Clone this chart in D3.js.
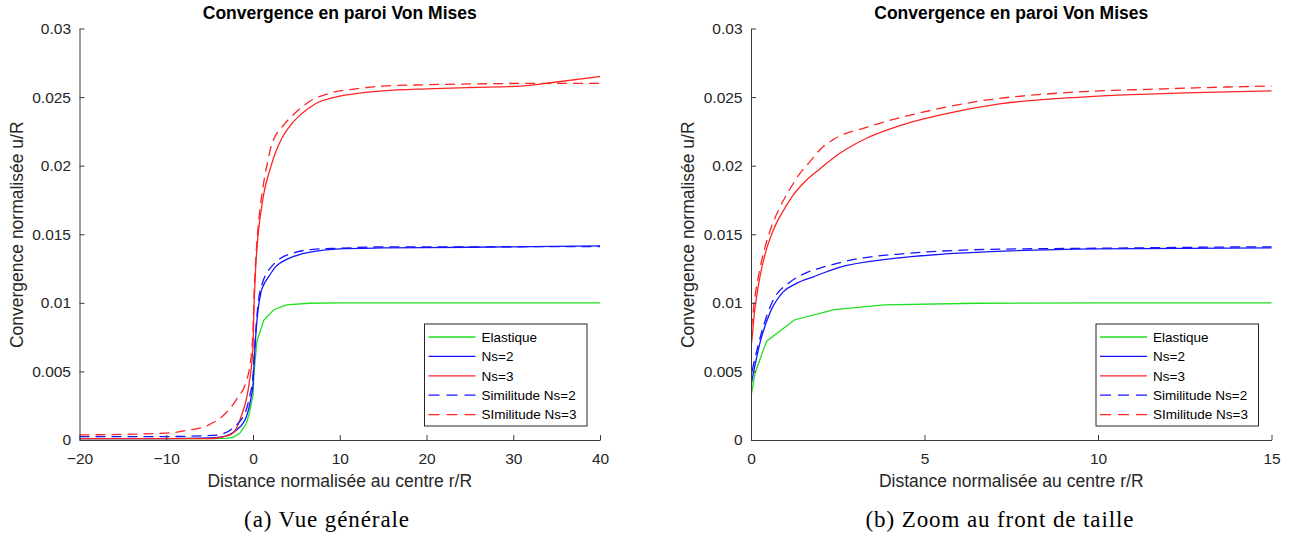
<!DOCTYPE html>
<html>
<head>
<meta charset="utf-8">
<script src="https://cdn.jsdelivr.net/npm/d3@7"></script>
<style>
  html, body { margin: 0; padding: 0; background: #fff; }
  svg { display: block; }
  text { font-family: "Liberation Sans", Arial, Helvetica, sans-serif; }
</style>
</head>
<body>
<svg id="chart" width="1294" height="535"></svg>
<script>
// ---------------- DATA ----------------
const seriesNames = ["Elastique", "Ns=2", "Ns=3", "Similitude Ns=2", "SImilitude Ns=3"];

const elastiqueX = [-20, -10, -5, -3, -2.3, -1.5, -0.77, -0.4, -0.19, 0, 0.12, 0.45, 1.25, 2.4, 3.84, 6.5, 10, 20, 30, 40];
const elastiqueY = [0.0001, 0.0001, 0.0001, 0.00012, 0.0002, 0.0005, 0.0012, 0.002, 0.0027, 0.0032, 0.0049, 0.0072, 0.00875, 0.0095, 0.00985, 0.00997, 0.01, 0.01, 0.01, 0.01];

const ns2X = [-20, -10, -5, -3.8, -1.9, -0.77, -0.19, 0, 0.07, 0.26, 0.55, 0.93, 1.3, 1.8, 2.5, 4.0, 5.45, 6.9, 10, 15, 20, 30, 40];
const ns2Y = [0.0001, 0.0001, 0.00015, 0.0002, 0.00073, 0.0017, 0.0032, 0.004, 0.0049, 0.0071, 0.0093, 0.0108, 0.0114, 0.0119, 0.01255, 0.0132, 0.01354, 0.01373, 0.01393, 0.014, 0.01403, 0.01408, 0.01415];

const ns3X = [-20, -10, -5, -3, -2.3, -1.38, -0.43, 0, 0.1, 0.25, 0.4, 0.55, 0.75, 0.95, 1.2, 1.5, 2.0, 2.56, 3.33, 4.39, 5.64, 7.16, 9.52, 12.48, 15, 20, 25, 31, 35, 40];
const ns3Y = [0.0001, 0.0001, 0.0001, 0.0003, 0.0005, 0.0017, 0.0042, 0.0068, 0.0093, 0.0118, 0.0135, 0.0147, 0.0159, 0.0168, 0.0178, 0.0187, 0.0198, 0.0209, 0.022, 0.023, 0.0238, 0.0245, 0.025, 0.0253, 0.02545, 0.0256, 0.0257, 0.0258, 0.0261, 0.0265];

const simNs2X = [-20, -10, -4.2, -1.54, -0.38, 0, 0.1, 0.3, 0.64, 1.12, 1.6, 2.08, 3.05, 4.49, 6.9, 10, 15, 20, 30, 40];
const simNs2Y = [0.00025, 0.00025, 0.00036, 0.00134, 0.0032, 0.0047, 0.0058, 0.0078, 0.0102, 0.0115, 0.0122, 0.0126, 0.0132, 0.0136, 0.0139, 0.01398, 0.01408, 0.01408, 0.01409, 0.0141];

const simNs3X = [-20, -10, -7.6, -5.2, -3.3, -1.86, -0.67, -0.38, 0, 0.1, 0.25, 0.53, 0.8, 1.1, 1.4, 1.7, 2.0, 2.37, 3.33, 4.79, 6.56, 8.93, 11.9, 15, 20, 28, 33, 40];
const simNs3Y = [0.00037, 0.0005, 0.0007, 0.00107, 0.00186, 0.003, 0.0045, 0.0053, 0.008, 0.0102, 0.0124, 0.0151, 0.0168, 0.0182, 0.0194, 0.0203, 0.0212, 0.0219, 0.0228, 0.0238, 0.0247, 0.0253, 0.0256, 0.0258, 0.0259, 0.02598, 0.026, 0.026];

const yTicks = [0, 0.005, 0.01, 0.015, 0.02, 0.025, 0.03];
const yTickLabels = ["0", "0.005", "0.01", "0.015", "0.02", "0.025", "0.03"];
const xTicksA = [-20, -10, 0, 10, 20, 30, 40];
const xTicksB = [0, 5, 10, 15];

const titleText = "Convergence en paroi Von Mises";
const xLabelText = "Distance normalisée au centre r/R";
const yLabelText = "Convergence normalisée u/R";
const captionA = "(a) Vue générale";
const captionB = "(b) Zoom au front de taille";

// ---------------- STYLE ----------------
const seriesStyle = [
  { color: "#1ee01e", dash: null, curve: d3.curveLinear },
  { color: "#1414ff", dash: null, curve: d3.curveMonotoneX },
  { color: "#ff2424", dash: null, curve: d3.curveMonotoneX },
  { color: "#1414ff", dash: "10,6", curve: d3.curveMonotoneX },
  { color: "#ff2424", dash: "10,6", curve: d3.curveMonotoneX }
];
const seriesData = [
  [elastiqueX, elastiqueY],
  [ns2X, ns2Y],
  [ns3X, ns3Y],
  [simNs2X, simNs2Y],
  [simNs3X, simNs3Y]
];

const svg = d3.select("#chart");
const axisColor = "#3a3a3a";

function drawPanel(opts) {
  const { id, left, right, top, bottom, xDomain, xTicks, captionX, caption } = opts;
  const x = d3.scaleLinear().domain(xDomain).range([left, right]);
  const y = d3.scaleLinear().domain([0, 0.03]).range([bottom, top]);
  const g = svg.append("g");

  svg.append("clipPath").attr("id", "clip" + id)
    .append("rect").attr("x", left).attr("y", top - 2)
    .attr("width", right - left).attr("height", bottom - top + 2);

  const lg = g.append("g").attr("clip-path", `url(#clip${id})`);
  seriesData.forEach((d, i) => {
    const pts = d[0].map((xv, k) => [xv, d[1][k]]);
    const line = d3.line().x(p => x(p[0])).y(p => y(p[1])).curve(seriesStyle[i].curve);
    lg.append("path")
      .attr("d", line(pts))
      .attr("fill", "none")
      .attr("stroke", seriesStyle[i].color)
      .attr("stroke-width", 1.3)
      .attr("stroke-dasharray", seriesStyle[i].dash);
  });

  const yAxis = d3.axisLeft(y).tickValues(yTicks)
    .tickFormat((v, i) => yTickLabels[i])
    .tickSizeInner(-5).tickSizeOuter(0).tickPadding(8.5);
  const xAxis = d3.axisBottom(x).tickValues(xTicks)
    .tickFormat(d3.format("d"))
    .tickSizeInner(-5).tickSizeOuter(0).tickPadding(12.6);

  const ya = g.append("g").attr("transform", `translate(${left},0)`).call(yAxis);
  const xa = g.append("g").attr("transform", `translate(0,${bottom})`).call(xAxis);
  [ya, xa].forEach(a => {
    a.select(".domain").attr("stroke", axisColor).attr("stroke-width", 1);
    a.selectAll(".tick line").attr("stroke", axisColor).attr("stroke-width", 1);
    a.selectAll(".tick text").attr("fill", "#262626")
      .style("font-size", "15.5px")
      .style("font-family", "'Liberation Sans', Arial, sans-serif");
  });

  const cx = (left + right) / 2;
  g.append("text").attr("x", cx).attr("y", 19).attr("text-anchor", "middle")
    .style("font-size", "17.5px").style("font-weight", "bold").attr("fill", "#000")
    .text(titleText);
  g.append("text").attr("x", cx).attr("y", 487).attr("text-anchor", "middle")
    .style("font-size", "17.5px").attr("fill", "#262626").text(xLabelText);
  g.append("text").attr("transform", `translate(${left - 57},${(top + bottom) / 2 + 0.5}) rotate(-90)`)
    .attr("text-anchor", "middle")
    .style("font-size", "17.5px").attr("fill", "#262626").text(yLabelText);
  g.append("text").attr("x", captionX).attr("y", 527).attr("text-anchor", "middle")
    .style("font-family", "'Liberation Serif', 'Times New Roman', serif")
    .style("font-size", "23px").style("letter-spacing", "0.9px")
    .attr("fill", "#000").text(caption);

  // legend
  const lw = 162.5, lh = 102;
  const lx = right - 13 - lw, ly = 324;
  const leg = g.append("g");
  leg.append("rect").attr("x", lx).attr("y", ly).attr("width", lw).attr("height", lh)
    .attr("fill", "#fff").attr("stroke", "#262626").attr("stroke-width", 1);
  seriesNames.forEach((name, i) => {
    const ry = ly + 13 + i * 19.4;
    leg.append("line").attr("x1", lx + 4).attr("x2", lx + 51)
      .attr("y1", ry).attr("y2", ry)
      .attr("stroke", seriesStyle[i].color).attr("stroke-width", 1.3)
      .attr("stroke-dasharray", seriesStyle[i].dash ? "11,7" : null);
    leg.append("text").attr("x", lx + 57).attr("y", ry + 4.8)
      .style("font-size", "13.5px").attr("fill", "#000").text(name);
  });
}

drawPanel({ id: "A", left: 79.5, right: 600, top: 28.5, bottom: 440,
  xDomain: [-20, 40], xTicks: xTicksA, captionX: 327, caption: captionA });
drawPanel({ id: "B", left: 751, right: 1271.5, top: 28.5, bottom: 440,
  xDomain: [0, 15], xTicks: xTicksB, captionX: 1000, caption: captionB });
</script>
</body>
</html>
